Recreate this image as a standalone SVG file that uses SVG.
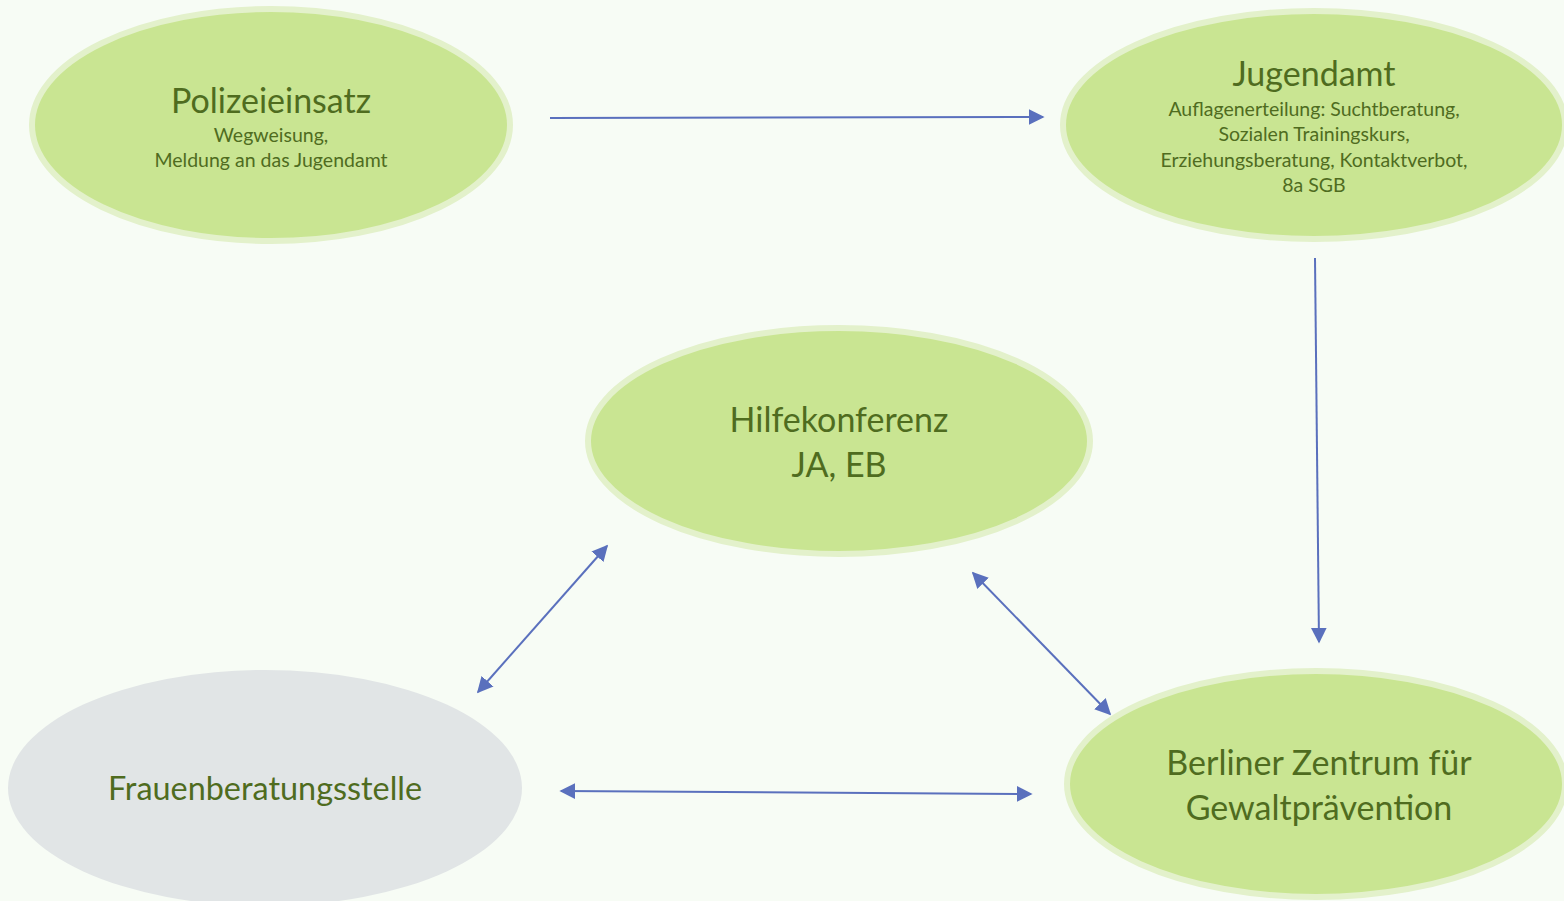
<svg xmlns="http://www.w3.org/2000/svg" width="1564" height="901" viewBox="0 0 1564 901">
<style>
.green{fill:#C9E592;stroke:#E3F1CB;stroke-width:6}
.gray{fill:#E1E5E6}
.t{font-family:Lato,"Open Sans","Liberation Sans",sans-serif;fill:#4F6C1F;text-anchor:middle}
.big{font-size:34px}
.small{font-size:19.5px}
.c{stroke:#5A70BD;stroke-width:2;fill:none}
</style>
<defs>
<marker id="ah" viewBox="0 0 10 10" refX="9" refY="5" markerWidth="8" markerHeight="8" markerUnits="strokeWidth" orient="auto-start-reverse">
<path d="M0,0 L10,5 L0,10 z" fill="#5A70BD"/>
</marker>
</defs>
<rect width="1564" height="901" fill="#F7FCF5"/>
<g id="polizeieinsatz">
<ellipse class="green" cx="271" cy="125" rx="239" ry="116"/>
<text class="t big" x="271" y="113">Polizeieinsatz</text>
<text class="t small" x="271" y="142">Wegweisung,</text>
<text class="t small" x="271" y="167">Meldung an das Jugendamt</text>
</g>
<g id="jugendamt">
<ellipse class="green" cx="1314" cy="125" rx="251" ry="114"/>
<text class="t big" x="1314" y="86">Jugendamt</text>
<text class="t small" x="1314" y="116">Auflagenerteilung: Suchtberatung,</text>
<text class="t small" x="1314" y="141">Sozialen Trainingskurs,</text>
<text class="t small" x="1314" y="167">Erziehungsberatung, Kontaktverbot,</text>
<text class="t small" x="1314" y="192">8a SGB</text>
</g>
<g id="hilfekonferenz">
<ellipse class="green" cx="839" cy="441" rx="251" ry="113"/>
<text class="t big" x="839" y="432">Hilfekonferenz</text>
<text class="t big" x="839" y="477">JA, EB</text>
</g>
<g id="frauenberatungsstelle">
<ellipse class="gray" cx="265" cy="788" rx="257" ry="118"/>
<text class="t big" x="265" y="800" style="font-size:32.4px">Frauenberatungsstelle</text>
</g>
<g id="berliner-zentrum">
<ellipse class="green" cx="1316" cy="784" rx="249" ry="113"/>
<text class="t big" x="1319" y="775">Berliner Zentrum für</text>
<text class="t big" x="1319" y="820">Gewaltprävention</text>
</g>
<g id="connectors">
<line class="c" x1="550" y1="118" x2="1043" y2="117" marker-end="url(#ah)"/>
<line class="c" x1="1315" y1="258" x2="1319" y2="642" marker-end="url(#ah)"/>
<line class="c" x1="607" y1="546" x2="478" y2="692" marker-start="url(#ah)" marker-end="url(#ah)"/>
<line class="c" x1="973" y1="573" x2="1110" y2="714" marker-start="url(#ah)" marker-end="url(#ah)"/>
<line class="c" x1="561" y1="791" x2="1031" y2="794" marker-start="url(#ah)" marker-end="url(#ah)"/>
</g>
</svg>
